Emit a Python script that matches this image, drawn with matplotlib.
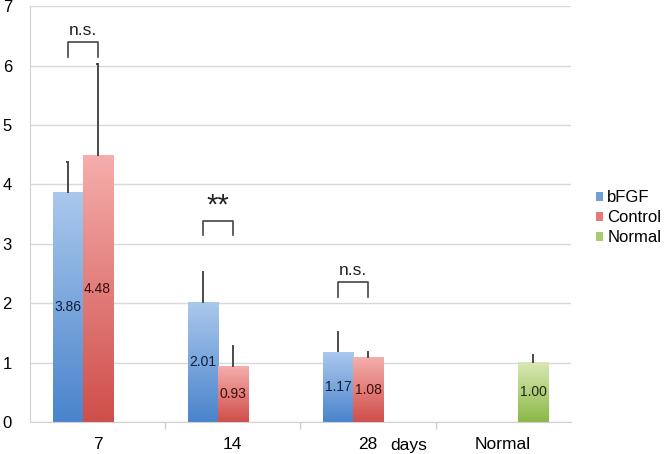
import numpy as np
import matplotlib
matplotlib.use('Agg')
import matplotlib.pyplot as plt
from matplotlib.colors import LinearSegmentedColormap
from matplotlib.patches import Patch

plt.rcParams['font.family'] = ['Liberation Sans', 'DejaVu Sans']

categories = ['7', '14', '28', 'Normal']
bfgf = [3.86, 2.01, 1.17, 0]
bfgf_err = [0.52, 0.51, 0.34, 0]
control = [4.48, 0.93, 1.08, 0]
control_err = [1.54, 0.35, 0.10, 0]
normal = [0, 0, 0, 1.00]
normal_err = [0, 0, 0, 0.13]

# significance marks per category (text, height of bracket top)
sig_marks = [('n.s.', 6.40), ('**', 3.39), ('n.s.', 2.36), None]

series = [
    ('bFGF', bfgf, bfgf_err, -1, ('#4a84cc', '#aac8ec'), '#0d1f3a'),
    ('Control', control, control_err, 0, ('#cf4e4a', '#f5aeac'), '#3a0d0d'),
    ('Normal', normal, normal_err, 1, ('#8cb848', '#d9e8b4'), '#1f2a0d'),
]

fig = plt.figure(figsize=(6.66, 4.54), dpi=100)
ax = fig.add_axes([0.045, 0.0705, 0.812, 0.916])

x = np.arange(len(categories))
w = 0.2222

ax.set_xlim(-0.5, 3.5)
ax.set_ylim(0, 7)

grad = np.linspace(0, 1, 256).reshape(-1, 1)
for name, vals, errs, slot, (c_bot, c_top), txt_col in series:
    cmap = LinearSegmentedColormap.from_list(name, [c_bot, c_top])
    xs = x + slot * w
    for xi, v, e in zip(xs, vals, errs):
        if v == 0:
            continue
        ax.imshow(grad, cmap=cmap, origin='lower', aspect='auto',
                  extent=(xi - w / 2, xi + w / 2, 0, v), zorder=2)
        # upper error bar only, tiny cap
        ax.vlines(xi, v, v + e, color='#4a4a4a', lw=1.4, zorder=3)
        ax.hlines(v + e, xi - 0.008, xi + 0.008, color='#4a4a4a', lw=1.4,
                  zorder=3)
        ax.text(xi, v / 2, f'{v:.2f}', ha='center', va='center',
                fontsize=10, color=txt_col, zorder=4)

ax.set_xlim(-0.5, 3.5)
ax.set_ylim(0, 7)

# brackets
for i, m in enumerate(sig_marks):
    if m is None:
        continue
    label, top = m
    x0, x1 = x[i] - w, x[i]
    ax.plot([x0, x0, x1, x1], [top - 0.25, top, top, top - 0.25],
            color='#444444', lw=1.2, zorder=3)
    if label == '**':
        ax.text((x0 + x1) / 2, top + 0.02, label, ha='center', va='bottom',
                fontsize=21, color='#222222')
    else:
        ax.text((x0 + x1) / 2, top + 0.07, label, ha='center', va='bottom',
                fontsize=12.5, color='#222222')

ax.set_yticks(range(0, 8))
ax.yaxis.grid(True, color='#d9d9d9', lw=1)
ax.set_axisbelow(True)
ax.tick_params(axis='y', length=0, labelsize=12, pad=13)
ax.set_xticks(x)
ax.set_xticklabels(categories)
ax.tick_params(axis='x', length=0, labelsize=12.5, pad=11)
ax.set_xticks(np.arange(0.5, 3.5, 1), minor=True)
ax.tick_params(axis='x', which='minor', length=5, color='#d0d0d0', width=1,
               direction='out')

for s in ['top', 'right']:
    ax.spines[s].set_visible(False)
ax.spines['left'].set_color('#d0d0d0')
ax.spines['bottom'].set_color('#d0d0d0')

ax.text(2.167, -0.4, 'days', ha='left', va='center', fontsize=12.5,
        transform=ax.transData, clip_on=False)

handles = [Patch(facecolor=col, edgecolor='none') for col in
           ['#6f9edb', '#e57b78', '#a9cb6e']]
fig.legend(handles, ['bFGF', 'Control', 'Normal'], loc='center left',
           bbox_to_anchor=(0.872, 0.52), frameon=False, fontsize=12,
           handlelength=0.45, handleheight=0.45, handletextpad=0.25,
           labelspacing=0.3)

fig.savefig('out.png', dpi=100)
